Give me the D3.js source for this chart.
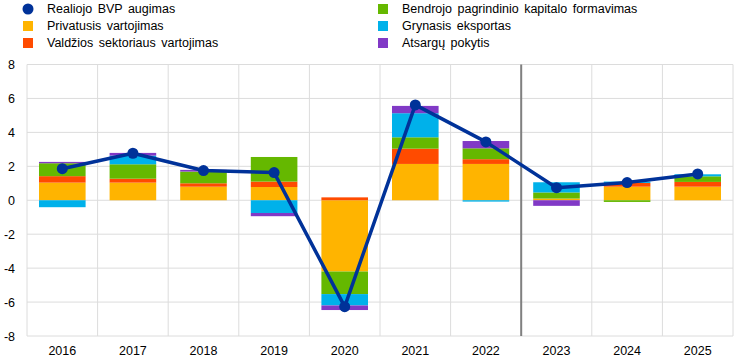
<!DOCTYPE html>
<html>
<head>
<meta charset="utf-8">
<script src="https://cdn.jsdelivr.net/npm/d3@7"></script>
<style>
  body { margin: 0; background: #fff; }
  svg { display: block; font-family: "Liberation Sans", Arial, sans-serif; }
</style>
</head>
<body>
<svg id="chart" width="744" height="363"></svg>
<script>
var years = ["2016", "2017", "2018", "2019", "2020", "2021", "2022", "2023", "2024", "2025"];

// contributions, percentage points
var privateCons = [1.04, 1.04, 0.80, 0.78, -4.20, 2.14, 2.14, 0.10, 0.80, 0.80];
var govCons     = [0.38, 0.23, 0.20, 0.32, 0.17, 0.90, 0.28, 0.00, 0.22, 0.28];
var gfcf        = [0.76, 0.85, 0.69, 1.45, -1.33, 0.67, 0.64, 0.36, -0.10, 0.33];
var netExports  = [-0.41, 0.51, 0.00, -0.75, -0.67, 1.42, -0.08, 0.60, 0.08, 0.12];
var inventories = [0.08, 0.16, 0.10, -0.19, -0.27, 0.43, 0.43, -0.33, 0.00, 0.00];
var gdp         = [1.86, 2.77, 1.75, 1.63, -6.27, 5.62, 3.44, 0.74, 1.04, 1.55];

var yTicks = [-8, -6, -4, -2, 0, 2, 4, 6, 8];

var series = [
  {name: "Privatusis vartojimas", values: privateCons, color: "#ffb400"},
  {name: "Valdžios sektoriaus vartojimas", values: govCons, color: "#ff4b00"},
  {name: "Bendrojo pagrindinio kapitalo formavimas", values: gfcf, color: "#65b800"},
  {name: "Grynasis eksportas", values: netExports, color: "#00b1ea"},
  {name: "Atsargų pokytis", values: inventories, color: "#8139c6"}
];

var svg = d3.select("#chart");
var margin = {left: 27, right: 11, top: 64.5, bottom: 27};
var width = 744, height = 363;

var x = d3.scaleBand()
    .domain(years)
    .range([margin.left, width - margin.right])
    .paddingInner(0.34)
    .paddingOuter(0.17);

var y = d3.scaleLinear()
    .domain([-8, 8])
    .range([height - margin.bottom, margin.top]);

var step = x.step();
var gridColor = "#dcdcdc";

// horizontal grid
svg.append("g").selectAll("line")
    .data(yTicks).enter().append("line")
    .attr("x1", margin.left).attr("x2", width - margin.right)
    .attr("y1", function(d){ return y(d); })
    .attr("y2", function(d){ return y(d); })
    .attr("stroke", gridColor).attr("stroke-width", 1);

// vertical grid at band edges
var edges = d3.range(years.length + 1).map(function(i){ return margin.left + i * step; });
svg.append("g").selectAll("line")
    .data(edges).enter().append("line")
    .attr("x1", function(d){ return d; }).attr("x2", function(d){ return d; })
    .attr("y1", y(8)).attr("y2", y(-8))
    .attr("stroke", gridColor).attr("stroke-width", 1);

// stacked bars, positives and negatives separately
var bars = svg.append("g");
years.forEach(function(yr, i){
  var pos = 0, neg = 0;
  series.forEach(function(s){
    var v = s.values[i];
    if (v === 0) return;
    var y0, y1;
    if (v > 0) { y0 = pos; y1 = pos + v; pos = y1; }
    else { y0 = neg; y1 = neg + v; neg = y1; }
    bars.append("rect")
      .attr("x", x(yr))
      .attr("width", x.bandwidth())
      .attr("y", y(Math.max(y0, y1)))
      .attr("height", Math.abs(y(y0) - y(y1)))
      .attr("fill", s.color);
  });
});

// projection separator
var sepX = margin.left + 7 * step;
svg.append("line")
    .attr("x1", sepX).attr("x2", sepX)
    .attr("y1", y(8)).attr("y2", y(-8))
    .attr("stroke", "#808080").attr("stroke-width", 2);

// GDP line
var line = d3.line()
    .x(function(d, i){ return x(years[i]) + x.bandwidth() / 2; })
    .y(function(d){ return y(d); });

svg.append("path")
    .datum(gdp)
    .attr("d", line)
    .attr("fill", "none")
    .attr("stroke", "#003299")
    .attr("stroke-width", 3.5)
    .attr("stroke-linejoin", "round");

svg.append("g").selectAll("circle")
    .data(gdp).enter().append("circle")
    .attr("cx", function(d, i){ return x(years[i]) + x.bandwidth() / 2; })
    .attr("cy", function(d){ return y(d); })
    .attr("r", 5.5)
    .attr("fill", "#003299");

// axes labels
var yAxis = d3.axisLeft(y).tickValues(yTicks).tickSize(0).tickPadding(12)
    .tickFormat(function(d){ return String(d); });
svg.append("g")
    .attr("transform", "translate(" + margin.left + ",0)")
    .call(yAxis)
    .call(function(g){ g.select(".domain").remove(); })
    .selectAll("text")
    .attr("font-size", 12.5)
    .attr("fill", "#000");

var xAxis = d3.axisBottom(x).tickSize(0).tickPadding(10);
svg.append("g")
    .attr("transform", "translate(0," + y(-8) + ")")
    .call(xAxis)
    .call(function(g){ g.select(".domain").remove(); })
    .selectAll("text")
    .attr("font-size", 12.5)
    .attr("fill", "#000");

// legend
var legendItems = [
  {name: "Realiojo BVP augimas", color: "#003299", type: "dot", col: 0, row: 0},
  {name: series[0].name, color: series[0].color, col: 0, row: 1},
  {name: series[1].name, color: series[1].color, col: 0, row: 2},
  {name: series[2].name, color: series[2].color, col: 1, row: 0},
  {name: series[3].name, color: series[3].color, col: 1, row: 1},
  {name: series[4].name, color: series[4].color, col: 1, row: 2}
];
var colX = [28, 383];
var rowY = [9, 26, 43];

var leg = svg.append("g").selectAll("g")
    .data(legendItems).enter().append("g")
    .attr("transform", function(d){ return "translate(" + colX[d.col] + "," + rowY[d.row] + ")"; });

leg.each(function(d){
  var g = d3.select(this);
  if (d.type === "dot") {
    g.append("circle").attr("r", 5.5).attr("fill", d.color);
  } else {
    g.append("rect").attr("x", -5).attr("y", -5).attr("width", 10).attr("height", 10).attr("fill", d.color);
  }
});

leg.append("text")
    .attr("x", 19)
    .attr("dy", "0.35em")
    .attr("font-size", 12.5)
    .attr("word-spacing", 2)
    .text(function(d){ return d.name; });
</script>
</body>
</html>
